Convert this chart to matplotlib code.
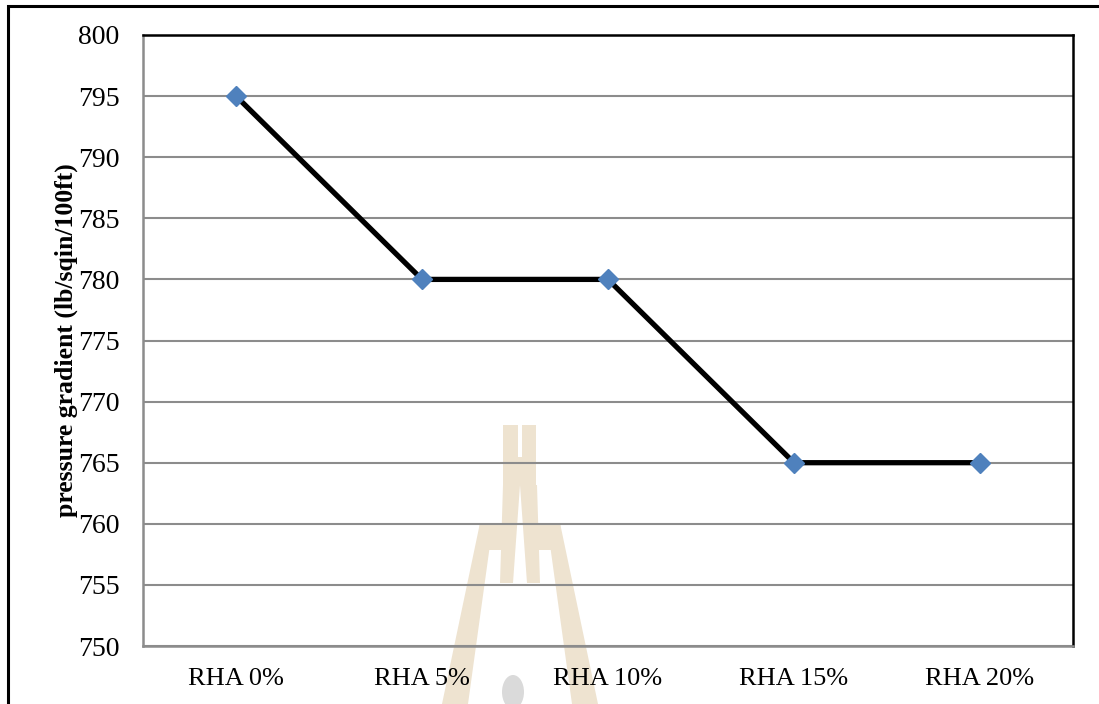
import matplotlib
matplotlib.use("Agg")
import matplotlib.pyplot as plt
from matplotlib.patches import Rectangle, Polygon, Ellipse

categories = ["RHA 0%", "RHA 5%", "RHA 10%", "RHA 15%", "RHA 20%"]
pressure_gradient = [795, 780, 780, 765, 765]
y_ticks = [750, 755, 760, 765, 770, 775, 780, 785, 790, 795, 800]

plt.rcParams["font.family"] = ["Liberation Serif", "DejaVu Serif"]

W, H = 1099, 704
fig = plt.figure(figsize=(W / 100, H / 100), dpi=100)
fig.patch.set_facecolor("white")


def px(x, y):
    """Pixel position (from top-left) to figure fraction."""
    return (x / W, 1 - y / H)


# page frame around the chart
fig.patches.append(Rectangle((8 / W, -0.05), 1.2, 1 - 6 / H + 0.05,
                             transform=fig.transFigure, fill=False,
                             edgecolor="black", linewidth=2.2, zorder=0))

# faint page watermark (tower emblem) behind the chart
tan = "#EEE3D0"
emblem = [
    [(503, 425), (518, 425), (518, 457), (503, 457)],
    [(522, 425), (536, 425), (536, 457), (522, 457)],
    [(503, 457), (536, 457), (536, 485), (503, 485)],
    [(503, 485), (520, 485), (513, 583), (500, 583)],
    [(537, 485), (520, 485), (527, 583), (540, 583)],
    [(480, 523), (506, 523), (505, 550), (477, 550)],
    [(560, 523), (534, 523), (535, 550), (563, 550)],
    [(480, 523), (493, 523), (468, 704), (442, 704)],
    [(560, 523), (547, 523), (572, 704), (598, 704)],
]
for poly in emblem:
    fig.patches.append(Polygon([px(x, y) for x, y in poly], closed=True,
                               transform=fig.transFigure, facecolor=tan,
                               edgecolor="none", zorder=-2))
fig.patches.append(Ellipse(px(513, 692), 22 / W, 34 / H,
                           transform=fig.transFigure, facecolor="#DADADA",
                           edgecolor="none", zorder=-2))

ax = fig.add_axes([143 / W, 1 - 646 / H, (1073 - 143) / W, (646 - 35) / H])
ax.set_facecolor("none")
x = list(range(len(categories)))

ax.plot(x, pressure_gradient, color="black", linewidth=3.8, zorder=3,
        solid_joinstyle="miter")
ax.plot(x, pressure_gradient, linestyle="none", marker="D", markersize=10.5,
        markerfacecolor="#4F81BD", markeredgecolor="#4F81BD", zorder=4)

ax.set_xlim(-0.5, len(categories) - 0.5)
ax.set_ylim(750, 800)
ax.set_yticks(y_ticks)
ax.set_xticks(x)
ax.set_xticklabels(categories)
ax.yaxis.grid(True, color="#8c8c8c", linewidth=1.5)
ax.set_axisbelow(True)
ax.tick_params(axis="both", length=0)
ax.tick_params(axis="y", pad=17, labelsize=20)
ax.tick_params(axis="x", pad=16, labelsize=19)

for side in ("left", "bottom"):
    ax.spines[side].set_color("#8c8c8c")
    ax.spines[side].set_linewidth(1.8)
for side in ("top", "right"):
    ax.spines[side].set_color("black")
    ax.spines[side].set_linewidth(1.8)

fig.text(*px(66, 340), "pressure gradient (lb/sqin/100ft)", rotation=90,
         ha="center", va="center", fontsize=18.5, fontweight="bold")

fig.savefig("out.png", dpi=100)
